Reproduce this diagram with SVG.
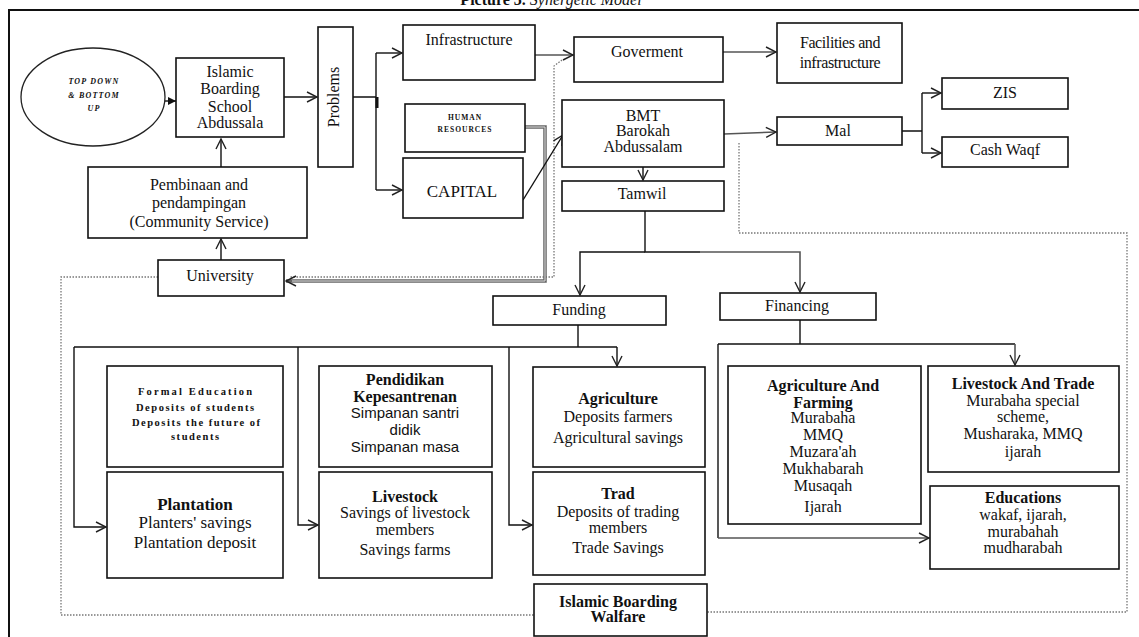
<svg xmlns="http://www.w3.org/2000/svg" width="1139" height="637" viewBox="0 0 1139 637">
<defs>
<style>
.box{fill:#fff;stroke:#111;stroke-width:1.6}
.t{font-family:"Liberation Serif","Times New Roman",serif;font-size:16px;fill:#111;text-anchor:middle}
.b{font-weight:bold}
.s{font-family:"Liberation Sans",Arial,sans-serif}
.c{fill:none;stroke:#111;stroke-width:1.4}
.g{fill:none;stroke:#555;stroke-width:1.6}
.d{fill:none;stroke:#777;stroke-width:1.3;stroke-dasharray:1.5 1.5}
</style>
<marker id="a" viewBox="0 0 12 12" refX="11" refY="6" markerWidth="12" markerHeight="12" markerUnits="userSpaceOnUse" orient="auto">
<path d="M1,1 L11,6 L1,11" fill="none" stroke="#222" stroke-width="1.4"/>
</marker>
<marker id="f" viewBox="0 0 10 10" refX="10" refY="5" markerWidth="8" markerHeight="8" markerUnits="userSpaceOnUse" orient="auto">
<path d="M0,0 L10,5 L0,10 z" fill="#111"/>
</marker>
</defs>
<rect width="1139" height="637" fill="#fff"/>
<text x="551" y="5" class="t" style="font-size:16px"><tspan class="b">Picture 3.</tspan><tspan font-style="italic"> Synergetic Model</tspan></text>
<path d="M9,637 V10 H1139" fill="none" stroke="#111" stroke-width="2"/>

<g id="connectors">
<path class="c" d="M165,101 H176" marker-end="url(#f)"/>
<path class="c" d="M284,97 H317" marker-end="url(#a)"/>
<path class="c" d="M353,97 H376 M376,53 V190"/>
<path d="M377,97 V108" stroke="#111" stroke-width="3"/>
<path class="c" d="M376,53 H402" marker-end="url(#a)"/>
<path class="c" d="M376,190 H402" marker-end="url(#a)"/>
<path class="g" d="M535,55 H573" marker-end="url(#a)"/>
<path class="g" d="M723,52 H776" marker-end="url(#a)"/>
<path class="d" d="M562,60 L554,66 V277 H290"/>
<path d="M525,127 H545 V281 H286" fill="none" stroke="#666" stroke-width="3.5"/>
<path d="M525,127 H545 V281 H286" fill="none" stroke="#ddd" stroke-width="1"/>
<path class="g" d="M292,281 H286" marker-end="url(#a)"/>
<path class="c" d="M523,200 L563,135" marker-end="url(#a)"/>
<path class="c" d="M643,167 V180" marker-end="url(#a)"/>
<path class="c" d="M645,211 V252 H700"/>
<path class="g" d="M700,252 H800 V292" marker-end="url(#a)"/>
<path class="c" d="M645,252 H580 V295" marker-end="url(#a)"/>
<path class="g" d="M724,134 L776,132" marker-end="url(#a)"/>
<path class="c" d="M902,131 H922 M922,93 V153"/>
<path class="c" d="M922,93 H941" marker-end="url(#a)"/>
<path class="c" d="M922,153 H941" marker-end="url(#a)"/>
<path class="d" d="M739,143 V233 H1127 V612 H707"/>
<path class="d" d="M158,277 H61 V615 H534"/>
<path class="c" d="M221,260 V239" marker-end="url(#a)"/>
<path class="c" d="M221,167 V139" marker-end="url(#a)"/>
<path class="c" d="M578,325 V347 M74,347 H617"/>
<path class="c" d="M617,347 V366" marker-end="url(#a)"/>
<path class="c" d="M74,347 V527 H106" marker-end="url(#a)"/>
<path class="c" d="M298,347 V525 H318" marker-end="url(#a)"/>
<path class="c" d="M509,347 V525 H532" marker-end="url(#a)"/>
<path class="c" d="M800,320 V344 M718,344 H1015"/>
<path class="g" d="M1015,344 V365" marker-end="url(#a)"/>
<path class="c" d="M718,344 V538"/>
<path class="g" d="M718,538 H929" marker-end="url(#a)"/>
</g>

<g id="topdown">
<ellipse cx="93" cy="97" rx="72" ry="49" fill="#fff" stroke="#222" stroke-width="1.3"/>
<text class="t b" font-style="italic" style="font-size:8px;letter-spacing:1.2px"><tspan x="94" y="84">TOP DOWN</tspan><tspan x="94" y="98">&amp; BOTTOM</tspan><tspan x="94" y="111">UP</tspan></text>
</g>
<g id="islamic">
<rect class="box" x="176" y="58" width="108" height="79"/>
<text class="t" style="font-size:16px"><tspan x="230" y="77">Islamic</tspan><tspan x="230" y="94">Boarding</tspan><tspan x="230" y="112">School</tspan><tspan x="230" y="128">Abdussala</tspan></text>
</g>
<g id="problems">
<rect class="box" x="318" y="27" width="35" height="140"/>
<text class="t" transform="translate(339,97) rotate(-90)" x="0" y="0">Problems</text>
</g>
<g id="pembinaan">
<rect class="box" x="88" y="167" width="219" height="71"/>
<text class="t"><tspan x="199" y="190">Pembinaan and</tspan><tspan x="199" y="208">pendampingan</tspan><tspan x="199" y="227">(Community Service)</tspan></text>
</g>
<g id="university">
<rect class="box" x="158" y="260" width="126" height="36"/>
<text class="t" x="220" y="281">University</text>
</g>
<g id="infrastructure">
<rect class="box" x="403" y="25" width="132" height="55"/>
<text class="t" x="469" y="45">Infrastructure</text>
</g>
<g id="human">
<rect class="box" x="405" y="104" width="120" height="48"/>
<text class="t b" style="font-size:7.5px;letter-spacing:1px"><tspan x="465" y="120">HUMAN</tspan><tspan x="465" y="132">RESOURCES</tspan></text>
</g>
<g id="capital">
<rect class="box" x="403" y="158" width="120" height="60"/>
<text class="t" x="462" y="197" style="font-size:17px">CAPITAL</text>
</g>
<g id="goverment">
<rect class="box" x="574" y="37" width="149" height="45"/>
<text class="t" x="647" y="57">Goverment</text>
</g>
<g id="facilities">
<rect class="box" x="777" y="23" width="125" height="60"/>
<text class="t" style="letter-spacing:-0.4px"><tspan x="840" y="48">Facilities and</tspan><tspan x="840" y="68">infrastructure</tspan></text>
</g>
<g id="bmt">
<rect class="box" x="562" y="100" width="162" height="67"/>
<text class="t"><tspan x="643" y="121">BMT</tspan><tspan x="643" y="136">Barokah</tspan><tspan x="643" y="152">Abdussalam</tspan></text>
</g>
<g id="tamwil">
<rect class="box" x="562" y="181" width="162" height="30"/>
<text class="t" x="642" y="199">Tamwil</text>
</g>
<g id="mal">
<rect class="box" x="777" y="117" width="125" height="28"/>
<text class="t" x="838" y="136">Mal</text>
</g>
<g id="zis">
<rect class="box" x="942" y="78" width="126" height="31"/>
<text class="t" x="1005" y="98">ZIS</text>
</g>
<g id="cashwaqf">
<rect class="box" x="942" y="137" width="126" height="30"/>
<text class="t" x="1005" y="155">Cash Waqf</text>
</g>
<g id="funding">
<rect class="box" x="493" y="296" width="173" height="29"/>
<text class="t" x="579" y="315">Funding</text>
</g>
<g id="financing">
<rect class="box" x="720" y="293" width="156" height="27"/>
<text class="t" x="797" y="311">Financing</text>
</g>
<g id="formal">
<rect class="box" x="107" y="366" width="176" height="101"/>
<text class="t b" style="font-size:10.5px"><tspan x="195" y="395" textLength="114" lengthAdjust="spacing">Formal Education</tspan><tspan x="195" y="411" textLength="118" lengthAdjust="spacing">Deposits of students</tspan><tspan x="196" y="426" textLength="128" lengthAdjust="spacing">Deposits the future of</tspan><tspan x="195" y="440" textLength="48" lengthAdjust="spacing">students</tspan></text>
</g>
<g id="plantation">
<rect class="box" x="107" y="472" width="176" height="106"/>
<text class="t" style="font-size:17px"><tspan class="b" x="195" y="510">Plantation</tspan><tspan x="195" y="528">Planters' savings</tspan><tspan x="195" y="548">Plantation deposit</tspan></text>
</g>
<g id="pendidikan">
<rect class="box" x="319" y="366" width="173" height="101"/>
<text class="t" style="font-size:16px"><tspan class="b" x="405" y="385">Pendidikan</tspan><tspan class="b" x="405" y="402">Kepesantrenan</tspan></text>
<text class="t s" style="font-size:15px"><tspan x="405" y="418">Simpanan santri</tspan><tspan x="405" y="435">didik</tspan><tspan x="405" y="452">Simpanan masa</tspan></text>
</g>
<g id="livestock">
<rect class="box" x="319" y="472" width="173" height="106"/>
<text class="t" style="font-size:16px"><tspan class="b" x="405" y="502">Livestock</tspan><tspan x="405" y="518">Savings of livestock</tspan><tspan x="405" y="535">members</tspan><tspan x="405" y="555">Savings farms</tspan></text>
</g>
<g id="agriculture">
<rect class="box" x="533" y="367" width="172" height="100"/>
<text class="t" style="font-size:16px"><tspan class="b" x="618" y="404">Agriculture</tspan><tspan x="618" y="422">Deposits farmers</tspan><tspan x="618" y="443">Agricultural savings</tspan></text>
</g>
<g id="trad">
<rect class="box" x="533" y="472" width="172" height="103"/>
<text class="t" style="font-size:16px"><tspan class="b" x="618" y="499">Trad</tspan><tspan x="618" y="517">Deposits of trading</tspan><tspan x="618" y="533">members</tspan><tspan x="618" y="553">Trade Savings</tspan></text>
</g>
<g id="agrifarming">
<rect class="box" x="728" y="366" width="193" height="158"/>
<text class="t" style="font-size:16px"><tspan class="b" x="823" y="391">Agriculture And</tspan><tspan class="b" x="823" y="408">Farming</tspan><tspan x="823" y="423">Murabaha</tspan><tspan x="823" y="440">MMQ</tspan><tspan x="823" y="457">Muzara'ah</tspan><tspan x="823" y="474">Mukhabarah</tspan><tspan x="823" y="491">Musaqah</tspan><tspan x="823" y="512">Ijarah</tspan></text>
</g>
<g id="livestocktrade">
<rect class="box" x="928" y="366" width="191" height="106"/>
<text class="t" style="font-size:16px"><tspan class="b" x="1023" y="389">Livestock And Trade</tspan><tspan x="1023" y="406">Murabaha special</tspan><tspan x="1023" y="422">scheme,</tspan><tspan x="1023" y="439">Musharaka, MMQ</tspan><tspan x="1023" y="457">ijarah</tspan></text>
</g>
<g id="educations">
<rect class="box" x="930" y="486" width="189" height="83"/>
<text class="t" style="font-size:16px"><tspan class="b" x="1023" y="503">Educations</tspan><tspan x="1023" y="520">wakaf, ijarah,</tspan><tspan x="1023" y="537">murabahah</tspan><tspan x="1023" y="553">mudharabah</tspan></text>
</g>
<g id="walfare">
<rect class="box" x="534" y="584" width="173" height="52"/>
<text class="t b" style="font-size:16px"><tspan x="618" y="607">Islamic Boarding</tspan><tspan x="618" y="622">Walfare</tspan></text>
</g>
</svg>
